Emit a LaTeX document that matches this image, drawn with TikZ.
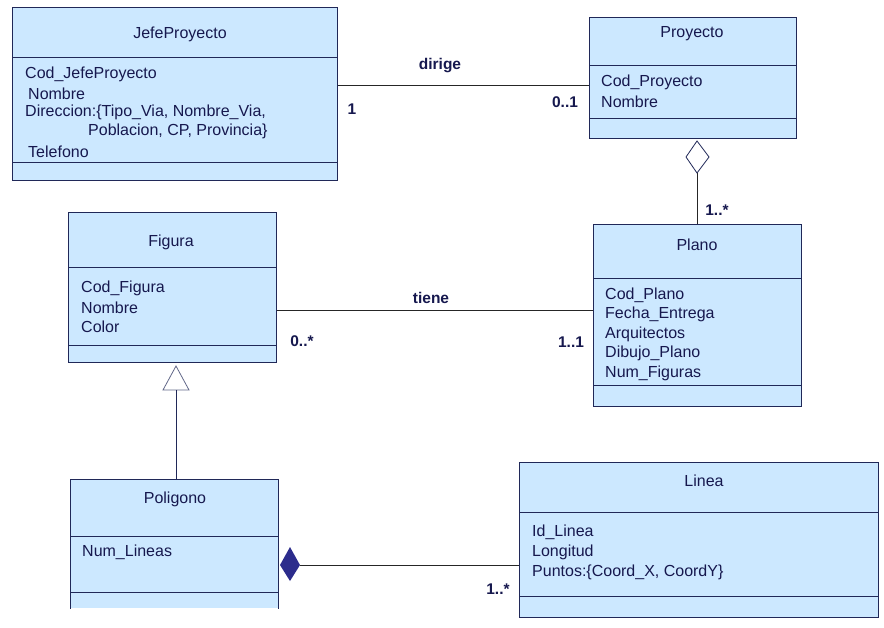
\documentclass[tikz,border=0pt]{standalone}
\usepackage{fontspec}
\setmainfont{Liberation Sans}
\usetikzlibrary{positioning}

\definecolor{clsfill}{RGB}{204,232,255}
\definecolor{clsline}{RGB}{32,40,88}
\definecolor{clstext}{RGB}{22,24,78}
\definecolor{compfill}{RGB}{44,44,140}

\begin{document}
\begin{tikzpicture}[x=1pt,y=-1pt]
\tikzset{
  cls/.style={draw=clsline,fill=clsfill,line width=0.9pt,inner sep=0pt,anchor=north west},
  sep/.style={clsline,line width=0.9pt},
  attr/.style={anchor=west,inner sep=0pt,yshift=-1.5pt,text=clstext,font=\fontsize{16}{19}\selectfont},
  title/.style={inner sep=0pt,yshift=-1.5pt,text=clstext,font=\fontsize{16}{19}\selectfont},
  mult/.style={inner sep=0pt,yshift=-1pt,text=clstext,font=\fontsize{15.5}{19}\selectfont\bfseries},
  link/.style={black!85,line width=0.9pt}
}
\useasboundingbox (0,0) rectangle (884,627);

% JefeProyecto
\node [cls,minimum width=325pt,minimum height=173pt] (jefe) at (12,7) {};
\draw [sep] (12,57) -- (337,57);
\draw [sep] (12,162) -- (337,162);
\node [title] (jefet) at (180,33) {JefeProyecto};
\node [attr] (jefea1) at (25,73) {Cod\_JefeProyecto};
\node [attr] (jefea2) at (28,92) {Nombre};
\node [attr] (jefea3) at (25,111) {Direccion:\{Tipo\_Via, Nombre\_Via,};
\node [attr] (jefea4) at (88,130) {Poblacion, CP, Provincia\}};
\node [attr] (jefea5) at (28,150) {Telefono};

% Proyecto
\node [cls,minimum width=207pt,minimum height=121pt] (proy) at (589,17) {};
\draw [sep] (589,65) -- (796,65);
\draw [sep] (589,118) -- (796,118);
\node [title] (proyt) at (692,32) {Proyecto};
\node [attr] (proya1) at (601,81) {Cod\_Proyecto};
\node [attr] (proya2) at (601,100) {Nombre};

% Figura
\node [cls,minimum width=208pt,minimum height=150pt] (fig) at (68,212) {};
\draw [sep] (68,267) -- (276,267);
\draw [sep] (68,345) -- (276,345);
\node [title] (figt) at (171,241) {Figura};
\node [attr] (figa1) at (81,287) {Cod\_Figura};
\node [attr] (figa2) at (81,306) {Nombre};
\node [attr] (figa3) at (81,325) {Color};

% Plano
\node [cls,minimum width=208pt,minimum height=182pt] (plano) at (593,224) {};
\draw [sep] (593,278) -- (801,278);
\draw [sep] (593,385) -- (801,385);
\node [title] (planot) at (697,243) {Plano};
\node [attr] (planoa1) at (605,294) {Cod\_Plano};
\node [attr] (planoa2) at (605,313) {Fecha\_Entrega};
\node [attr] (planoa3) at (605,333) {Arquitectos};
\node [attr] (planoa4) at (605,352) {Dibujo\_Plano};
\node [attr] (planoa5) at (605,372) {Num\_Figuras};

% Poligono (cut at the bottom)
\node [cls,draw=none,minimum width=208pt,minimum height=129pt] (pol) at (70,479) {};
\draw [sep] (pol.south west) -- (pol.north west) -- (pol.north east) -- (pol.south east);
\draw [sep] (70,536) -- (278,536);
\draw [sep] (70,592) -- (278,592);
\node [title] (polt) at (175,498) {Poligono};
\node [attr] (pola1) at (82,551) {Num\_Lineas};

% Linea
\node [cls,minimum width=359pt,minimum height=155pt] (lin) at (519,462) {};
\draw [sep] (519,512) -- (878,512);
\draw [sep] (519,596) -- (878,596);
\node [title] (lint) at (704,479) {Linea};
\node [attr] (lina1) at (532,531) {Id\_Linea};
\node [attr] (lina2) at (532,551) {Longitud};
\node [attr] (lina3) at (532,571) {Puntos:\{Coord\_X, CoordY\}};

% dirige
\draw [link] (jefe.east |- 0,85) -- (proy.west |- 0,85);
\node [mult] (dirige) at (440,65) {dirige};
\node [mult] (dirm1) at (352,108) {1};
\node [mult] (dirm2) at (565,101) {0..1};

% aggregation Proyecto <> Plano
\coordinate (aggtop) at (697,141);
\coordinate (aggbot) at (697,173);
\draw [clsline,line width=0.8pt,fill=white] (aggtop) -- (709,157) -- (aggbot) -- (686,157) -- cycle;
\draw [link] (aggbot) -- (aggbot |- plano.north);
\node [mult] (aggm) at (717,209) {1..*};

% tiene
\draw [link] (fig.east |- 0,310) -- (plano.west |- 0,310);
\node [mult] (tiene) at (431,297) {tiene};
\node [mult] (tienem1) at (302,340) {0..*};
\node [mult] (tienem2) at (571,341) {1..1};

% generalization Poligono -> Figura
\coordinate (genapex) at (176,366);
\coordinate (genbase) at (176,390);
\draw [clsline!70,line width=0.8pt,fill=white] (genapex) -- (189,390) -- (163,390) -- cycle;
\draw [clsline,line width=0.9pt] (genbase) -- (genbase |- pol.north);

% composition Poligono <*> Linea
\coordinate (compend) at (300,565);
\fill [compfill] (280,565) -- (290,547) -- (compend) -- (290,581) -- cycle;
\draw [link] (compend) -- (compend -| lin.west);
\node [mult] (compm) at (498,588) {1..*};
\end{tikzpicture}
\end{document}
